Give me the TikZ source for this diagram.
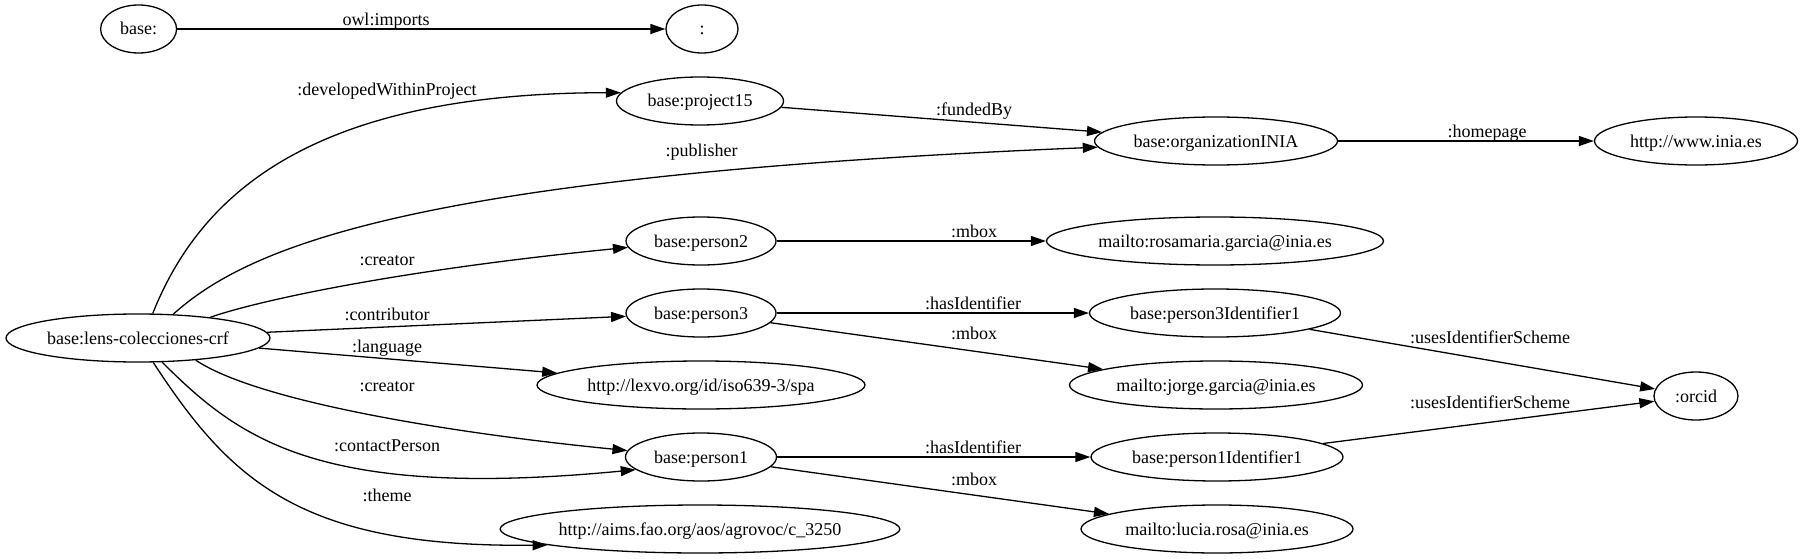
\documentclass[tikz,border=0pt]{standalone}
\usepackage{fontspec}
\setmainfont{Liberation Serif}
\usetikzlibrary{shapes.geometric,arrows.meta}
\begin{document}
\begin{tikzpicture}[x=1pt,y=-1pt,
  nd/.style={ellipse,draw,line width=1.3pt,inner sep=0pt,minimum height=48pt,
    font=\fontsize{18}{20}\selectfont,text height=12pt,text depth=0pt},
  lbl/.style={inner sep=0pt,font=\fontsize{18}{20}\selectfont,text height=12pt,text depth=0pt},
  ed/.style={line width=1.3pt,-{Triangle[length=15pt,width=10pt]}}]
\fill[white] (0,0) rectangle (1803,559);
\useasboundingbox (0,0) rectangle (1803,559);
% nodes
\node[nd,minimum width=76pt]  (base)  at (138.6,29) {base:};
\node[nd,minimum width=72pt]  (colon) at (702,29)   {:};
\node[nd,minimum width=167pt] (p15)   at (700,101)  {base:project15};
\node[nd,minimum width=243pt] (org)   at (1216,141) {base:organizationINIA};
\node[nd,minimum width=203pt] (www)   at (1696,141) {http://www.inia.es};
\node[nd,minimum width=150pt] (p2)    at (701,241)  {base:person2};
\node[nd,minimum width=337pt] (rosa)  at (1215,241) {mailto:rosamaria.garcia@inia.es};
\node[nd,minimum width=264pt] (c)     at (138,338)  {base:lens-colecciones-crf};
\node[nd,minimum width=150pt] (p3)    at (701,313)  {base:person3};
\node[nd,minimum width=251pt] (p3id)  at (1215,313) {base:person3Identifier1};
\node[nd,minimum width=293pt] (jorge) at (1216,385) {mailto:jorge.garcia@inia.es};
\node[nd,minimum width=328pt] (lexvo) at (701,385)  {http://lexvo.org/id/iso639-3/spa};
\node[nd,minimum width=84pt]  (orcid) at (1696,396) {:orcid};
\node[nd,minimum width=151pt] (p1)    at (701,457)  {base:person1};
\node[nd,minimum width=252pt] (p1id)  at (1217,457) {base:person1Identifier1};
\node[nd,minimum width=399pt] (aims)  at (700,529)  {http://aims.fao.org/aos/agrovoc/c\_3250};
\node[nd,minimum width=272pt] (lucia) at (1217,529) {mailto:lucia.rosa@inia.es};
% edges
\draw[ed] (base) -- (colon);
\draw[ed] (c.59) .. controls (200,195) and (310,93) .. (p15.174);
\draw[ed] (p15) -- (org);
\draw[ed] (c.34) .. controls (250,245) and (420,175) .. (org.183);
\draw[ed] (org) -- (www);
\draw[ed] (c.16) .. controls (260,300) and (400,270) .. (p2.185);
\draw[ed] (p2) -- (rosa);
\draw[ed] (c) -- (p3);
\draw[ed] (p3) -- (p3id);
\draw[ed] (p3) -- (jorge);
\draw[ed] (c) -- (lexvo);
\draw[ed] (c.-21) .. controls (255,400) and (440,432) .. (p1.175);
\draw[ed] (c.-45) .. controls (240,440) and (320,500) .. (p1.191);
\draw[ed] (c.-58) .. controls (230,480) and (300,548) .. (aims.186);
\draw[ed] (p1) -- (p1id);
\draw[ed] (p1) -- (lucia);
\draw[ed] (p3id) -- (orcid);
\draw[ed] (p1id) -- (orcid);
% edge labels
\node[lbl] (l1)  at (386,20)   {owl:imports};
\node[lbl] (l2)  at (387,90)   {:developedWithinProject};
\node[lbl] (l3)  at (974,110)  {:fundedBy};
\node[lbl] (l4)  at (701.5,150) {:publisher};
\node[lbl] (l5)  at (1487,131) {:homepage};
\node[lbl] (l6)  at (387,259)  {:creator};
\node[lbl] (l7)  at (974,231)  {:mbox};
\node[lbl] (l8)  at (973,303)  {:hasIdentifier};
\node[lbl] (l9)  at (387,314)  {:contributor};
\node[lbl] (l10) at (974,333)  {:mbox};
\node[lbl] (l11) at (1490,337) {:usesIdentifierScheme};
\node[lbl] (l12) at (387,346)  {:language};
\node[lbl] (l13) at (387,385)  {:creator};
\node[lbl] (l14) at (1490,402) {:usesIdentifierScheme};
\node[lbl] (l15) at (387,445)  {:contactPerson};
\node[lbl] (l16) at (973,447)  {:hasIdentifier};
\node[lbl] (l17) at (974,479)  {:mbox};
\node[lbl] (l18) at (387,495)  {:theme};
\end{tikzpicture}
\end{document}
